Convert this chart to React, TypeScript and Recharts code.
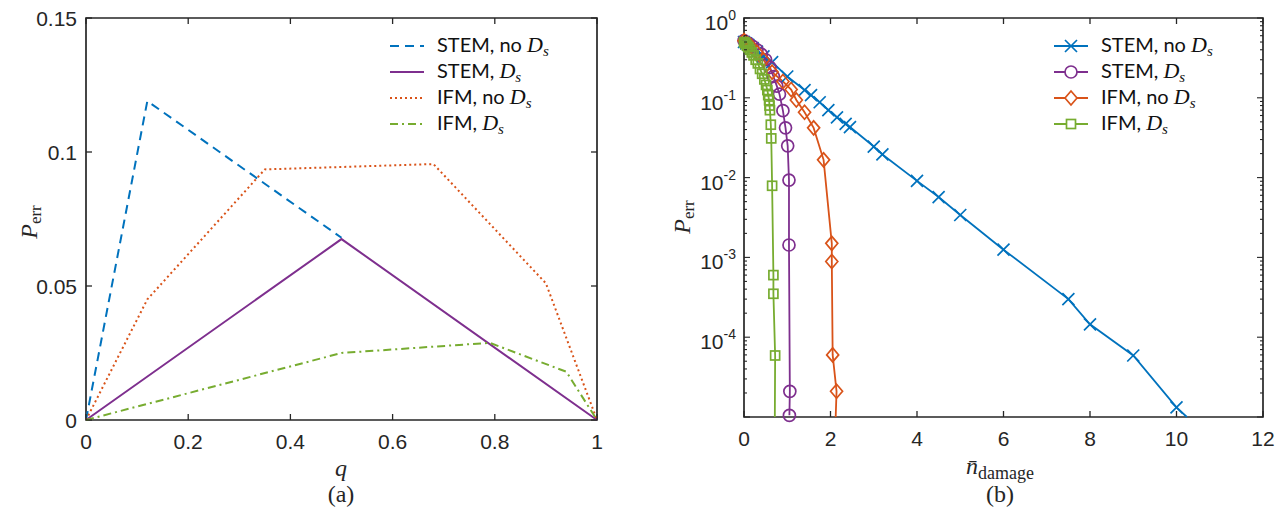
import React from 'react'
import { LineChart, Line, XAxis, YAxis, ReferenceArea } from 'recharts'

const BLUE = '#0072BD'
const ORANGE = '#D95319'
const PURPLE = '#7E2F8E'
const GREEN = '#77AC30'
const INK = '#262626'
const SANS = '"Liberation Sans", Arial, sans-serif'
const SERIF = '"Liberation Serif", "DejaVu Serif", serif'
const LEG = 'Lato, "Open Sans", sans-serif'

// ---- (a) P_err vs q ----
const qTicks = [0, 0.2, 0.4, 0.6, 0.8, 1]
const pTicks = [0, 0.05, 0.1, 0.15]

const qStemNoDs = [0, 0.12, 0.5]
const pStemNoDs = [0, 0.119, 0.068]
const qStemDs = [0, 0.5, 1]
const pStemDs = [0, 0.0675, 0]
const qIfmNoDs = [0, 0.12, 0.35, 0.68, 0.9, 1]
const pIfmNoDs = [0, 0.045, 0.0935, 0.0955, 0.051, 0]
const qIfmDs = [0, 0.5, 0.79, 0.94, 1]
const pIfmDs = [0, 0.025, 0.0288, 0.018, 0]

// ---- (b) P_err vs mean damage (log) ----
const nTicks = [0, 2, 4, 6, 8, 10, 12]
const decades = [-5, -4, -3, -2, -1, 0]

const nStemNoDs = [0, 0.05, 0.1, 0.2, 0.3, 0.45, 0.65, 1.0, 1.4, 1.55, 1.75, 1.95, 2.15, 2.35, 2.45, 3.0, 3.2, 4.0, 4.5, 5.0, 6.0, 7.5, 8.0, 9.0, 10.0]
const eStemNoDs = [0.5, 0.48, 0.46, 0.42, 0.38, 0.33, 0.28, 0.185, 0.125, 0.108, 0.088, 0.07, 0.057, 0.047, 0.043, 0.0245, 0.0195, 0.0091, 0.0057, 0.0034, 0.00125, 0.0003, 0.000145, 0.000059, 0.0000132]
const tailStemNoDs = [10.24, 0.00001]

const nStemDs = [0, 0.1, 0.2, 0.3, 0.4, 0.5, 0.6, 0.68, 0.76, 0.82, 0.9, 0.96, 1.01, 1.04, 1.04, 1.06, 1.05]
const eStemDs = [0.52, 0.48, 0.44, 0.4, 0.35, 0.3, 0.24, 0.185, 0.14, 0.111, 0.069, 0.042, 0.025, 0.0093, 0.00143, 0.000021, 0.0000105]

const nIfmNoDs = [0, 0.15, 0.3, 0.45, 0.65, 0.9, 1.09, 1.21, 1.4, 1.61, 1.84, 2.03, 2.03, 2.05, 2.14]
const eIfmNoDs = [0.52, 0.45, 0.37, 0.3, 0.21, 0.16, 0.127, 0.094, 0.066, 0.042, 0.0167, 0.0015, 0.00089, 0.00006, 0.000021]
const tailIfmNoDs = [2.12, 0.00001]

const nIfmDs = [0, 0.02, 0.04, 0.07, 0.1, 0.14, 0.18, 0.22, 0.27, 0.32, 0.37, 0.42, 0.47, 0.51, 0.54, 0.56, 0.58, 0.59, 0.6, 0.62, 0.63, 0.65, 0.68, 0.68, 0.72]
const eIfmDs = [0.5, 0.49, 0.47, 0.45, 0.43, 0.4, 0.37, 0.34, 0.3, 0.27, 0.23, 0.2, 0.17, 0.145, 0.125, 0.108, 0.093, 0.08, 0.07, 0.046, 0.031, 0.0079, 0.0006, 0.00035, 0.000059]
const tailIfmDs = [0.713, 0.00001]

const pairs = (xs: number[], ys: number[]) => xs.map((x, i) => ({ x, y: ys[i] }))
const withTail = (xs: number[], ys: number[], tail?: number[]) => {
  const d: any[] = pairs(xs, ys)
  if (tail) d.push({ x: tail[0], y: tail[1], noMark: true })
  return d
}

const logTicks = decades.flatMap((d) =>
  d === 0 ? [1] : [1, 2, 3, 4, 5, 6, 7, 8, 9].map((m) => m * Math.pow(10, d))
).filter((v) => v >= 1e-5 && v <= 1)

// plot geometry inside each 640x516 chart
const A = { left: 86, right: 597, top: 18, bottom: 420 }
const B = { left: 104, right: 623, top: 18, bottom: 417 }

const tickText = { fill: INK, fontSize: 21, fontFamily: SANS }

const makeXTick = (g: typeof A) => (props: any) => {
  const { x, payload } = props
  return (
    <g>
      <line x1={x} x2={x} y1={g.bottom} y2={g.bottom - 6} stroke={INK} strokeWidth={1.3} />
      <line x1={x} x2={x} y1={g.top} y2={g.top + 6} stroke={INK} strokeWidth={1.3} />
      <text x={x} y={g.bottom + 29} textAnchor="middle" {...tickText}>
        {String(payload.value)}
      </text>
    </g>
  )
}

const makeLinYTick = (g: typeof A) => (props: any) => {
  const { y, payload } = props
  return (
    <g>
      <line x1={g.left} x2={g.left + 6} y1={y} y2={y} stroke={INK} strokeWidth={1.3} />
      <line x1={g.right} x2={g.right - 6} y1={y} y2={y} stroke={INK} strokeWidth={1.3} />
      <text x={g.left - 9} y={y + 8} textAnchor="end" {...tickText}>
        {String(payload.value)}
      </text>
    </g>
  )
}

const makeLogYTick = (g: typeof B) => (props: any) => {
  const { y, payload } = props
  const l = Math.log10(payload.value)
  const major = Math.abs(l - Math.round(l)) < 1e-6
  const len = major ? 6 : 3
  return (
    <g>
      <line x1={g.left} x2={g.left + len} y1={y} y2={y} stroke={INK} strokeWidth={1.1} />
      <line x1={g.right} x2={g.right - len} y1={y} y2={y} stroke={INK} strokeWidth={1.1} />
      {major && Math.round(l) > -5 && (
        <text x={g.left - 8} y={y + 12} textAnchor="end" {...tickText}>
          <tspan>10</tspan>
          <tspan dy={-10} fontSize={14}>{String(Math.round(l))}</tspan>
        </text>
      )}
    </g>
  )
}

const xMark = (c: string) => (p: any) =>
  p.payload.noMark ? <g key={`m${p.index}`} /> : (
    <path key={`m${p.index}`} d={`M${p.cx - 6},${p.cy - 6}L${p.cx + 6},${p.cy + 6}M${p.cx - 6},${p.cy + 6}L${p.cx + 6},${p.cy - 6}`} stroke={c} strokeWidth={1.7} fill="none" />
  )
const oMark = (c: string) => (p: any) =>
  p.payload.noMark ? <g key={`m${p.index}`} /> : (
    <circle key={`m${p.index}`} cx={p.cx} cy={p.cy} r={6} stroke={c} strokeWidth={1.7} fill="none" />
  )
const dMark = (c: string) => (p: any) =>
  p.payload.noMark ? <g key={`m${p.index}`} /> : (
    <path key={`m${p.index}`} d={`M${p.cx},${p.cy - 7}L${p.cx + 6},${p.cy}L${p.cx},${p.cy + 7}L${p.cx - 6},${p.cy}Z`} stroke={c} strokeWidth={1.7} fill="none" />
  )
const sMark = (c: string) => (p: any) =>
  p.payload.noMark ? <g key={`m${p.index}`} /> : (
    <rect key={`m${p.index}`} x={p.cx - 4.5} y={p.cy - 4.5} width={9} height={9} stroke={c} strokeWidth={1.7} fill="none" />
  )

const Ds = () => (
  <span style={{ fontFamily: SERIF, fontStyle: 'italic', fontSize: 22 }}>
    D<sub style={{ fontSize: 15, verticalAlign: -4 }}>s</sub>
  </span>
)

type LegItem = { label: string; color: string; dash?: string; marker?: string }

function LegendBox({ items, left, top }: { items: LegItem[]; left: number; top: number }) {
  return (
    <div style={{ position: 'absolute', left, top }}>
      {items.map((it) => (
        <div key={it.label + it.color} style={{ display: 'flex', alignItems: 'center', height: 26 }}>
          <svg width={44} height={20} style={{ marginRight: 7 }}>
            <line x1={4} x2={38} y1={10} y2={10} stroke={it.color} strokeWidth={2} strokeDasharray={it.dash} />
            {it.marker === 'x' && <path d="M15,4L27,16M15,16L27,4" stroke={it.color} strokeWidth={1.7} />}
            {it.marker === 'o' && <circle cx={21} cy={10} r={6} stroke={it.color} strokeWidth={1.7} fill="#fff" />}
            {it.marker === 'd' && <path d="M21,3L27,10L21,17L15,10Z" stroke={it.color} strokeWidth={1.7} fill="#fff" />}
            {it.marker === 's' && <rect x={16.5} y={5.5} width={9} height={9} stroke={it.color} strokeWidth={1.7} fill="#fff" />}
          </svg>
          <span style={{ fontFamily: LEG, fontSize: 20, color: '#111', whiteSpace: 'nowrap' }}>
            {it.label} <Ds />
          </span>
        </div>
      ))}
    </div>
  )
}

const label = (x: number, y: number, content: React.ReactNode, rotate = false) => (
  <div
    style={{
      position: 'absolute',
      left: x,
      top: y,
      transform: `translate(-50%, -50%)${rotate ? ' rotate(-90deg)' : ''}`,
      fontFamily: SERIF,
      fontSize: 24,
      color: INK,
      whiteSpace: 'nowrap',
      lineHeight: 1,
    }}
  >
    {content}
  </div>
)

const Perr = (
  <span>
    <i>P</i>
    <sub style={{ fontSize: 17, verticalAlign: -4 }}>err</sub>
  </span>
)

export default function App() {
  return (
    <div style={{ position: 'absolute', left: 0, top: 0, width: 1280, height: 516, background: '#fff', overflow: 'hidden' }}>
      <div style={{ position: 'absolute', left: 0, top: 0 }}>
        <LineChart width={640} height={516} margin={{ top: 18, right: 43, bottom: 56, left: 26 }}>
          <XAxis dataKey="x" type="number" domain={[0, 1]} ticks={qTicks} interval={0} height={40} axisLine={false} tickLine={false} tick={makeXTick(A)} />
          <YAxis type="number" domain={[0, 0.15]} ticks={pTicks} interval={0} width={60} axisLine={false} tickLine={false} tick={makeLinYTick(A)} />
          <ReferenceArea x1={0} x2={1} y1={0} y2={0.15} fill="none" stroke={INK} strokeWidth={1.7} />
          <Line data={pairs(qStemNoDs, pStemNoDs)} dataKey="y" stroke={BLUE} strokeWidth={2} strokeDasharray="9 6" dot={false} isAnimationActive={false} />
          <Line data={pairs(qStemDs, pStemDs)} dataKey="y" stroke={PURPLE} strokeWidth={2} dot={false} isAnimationActive={false} />
          <Line data={pairs(qIfmNoDs, pIfmNoDs)} dataKey="y" stroke={ORANGE} strokeWidth={2} strokeDasharray="2 3" dot={false} isAnimationActive={false} />
          <Line data={pairs(qIfmDs, pIfmDs)} dataKey="y" stroke={GREEN} strokeWidth={2} strokeDasharray="8 4 2 4" dot={false} isAnimationActive={false} />
        </LineChart>
        <LegendBox
          left={386}
          top={33}
          items={[
            { label: 'STEM, no', color: BLUE, dash: '9 6' },
            { label: 'STEM,', color: PURPLE },
            { label: 'IFM, no', color: ORANGE, dash: '2 3' },
            { label: 'IFM,', color: GREEN, dash: '8 4 2 4' },
          ]}
        />
        {label(30, 222, Perr, true)}
        {label(341, 468, <i>q</i>)}
        {label(341, 494, '(a)')}
      </div>

      <div style={{ position: 'absolute', left: 640, top: 0 }}>
        <LineChart width={640} height={516} margin={{ top: 18, right: 17, bottom: 59, left: 44 }}>
          <XAxis dataKey="x" type="number" domain={[0, 12]} ticks={nTicks} interval={0} height={40} axisLine={false} tickLine={false} tick={makeXTick(B)} />
          <YAxis type="number" scale="log" domain={[1e-5, 1]} ticks={logTicks} interval={0} width={60} axisLine={false} tickLine={false} tick={makeLogYTick(B)} />
          <ReferenceArea x1={0} x2={12} y1={1e-5} y2={1} fill="none" stroke={INK} strokeWidth={1.7} />
          <Line data={withTail(nStemNoDs, eStemNoDs, tailStemNoDs)} dataKey="y" stroke={BLUE} strokeWidth={1.8} dot={xMark(BLUE)} isAnimationActive={false} />
          <Line data={withTail(nStemDs, eStemDs)} dataKey="y" stroke={PURPLE} strokeWidth={1.8} dot={oMark(PURPLE)} isAnimationActive={false} />
          <Line data={withTail(nIfmNoDs, eIfmNoDs, tailIfmNoDs)} dataKey="y" stroke={ORANGE} strokeWidth={1.8} dot={dMark(ORANGE)} isAnimationActive={false} />
          <Line data={withTail(nIfmDs, eIfmDs, tailIfmDs)} dataKey="y" stroke={GREEN} strokeWidth={1.8} dot={sMark(GREEN)} isAnimationActive={false} />
        </LineChart>
        <LegendBox
          left={410}
          top={33}
          items={[
            { label: 'STEM, no', color: BLUE, marker: 'x' },
            { label: 'STEM,', color: PURPLE, marker: 'o' },
            { label: 'IFM, no', color: ORANGE, marker: 'd' },
            { label: 'IFM,', color: GREEN, marker: 's' },
          ]}
        />
        {label(43, 217, Perr, true)}
        {label(360, 468, <span><i>n̄</i><sub style={{ fontSize: 18, verticalAlign: -5 }}>damage</sub></span>)}
        {label(360, 494, '(b)')}
      </div>
    </div>
  )
}
